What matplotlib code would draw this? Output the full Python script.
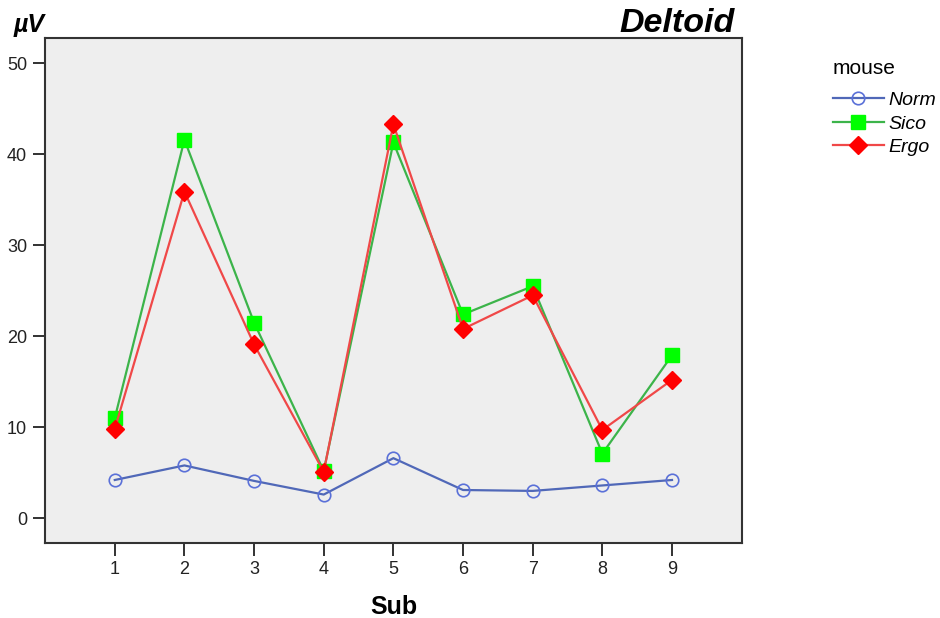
import matplotlib.pyplot as plt
import numpy as np

plt.rcParams['font.family'] = ['Liberation Sans', 'DejaVu Sans']

# mean amplitude per subject, three mouse types
subjects = [1, 2, 3, 4, 5, 6, 7, 8, 9]
norm = [4.2, 5.8, 4.1, 2.6, 6.6, 3.1, 3.0, 3.6, 4.2]
sico = [11.0, 41.6, 21.5, 5.2, 41.3, 22.4, 25.5, 7.1, 17.9]
ergo = [9.8, 35.9, 19.1, 5.1, 43.3, 20.8, 24.5, 9.7, 15.2]
yticks = [0, 10, 20, 30, 40, 50]

fig = plt.figure(figsize=(9.4, 6.18), dpi=100)
ax = fig.add_axes([0.048, 0.121, 0.741, 0.817])
ax.set_facecolor('#eeeeee')

ax.plot(subjects, norm, color='#5068b8', lw=1.6, marker='o', ms=9,
        mfc='none', mec='#5a70d8', mew=1.2, label='Norm')
ax.plot(subjects, sico, color='#3cb44a', lw=1.6, marker='s', ms=10.5,
        mfc='#00ff00', mec='#00ff00', label='Sico')
ax.plot(subjects, ergo, color='#f04848', lw=1.6, marker='D', ms=9,
        mfc='#ff0000', mec='#ff0000', label='Ergo')

ax.set_xlim(0, 10)
ax.set_ylim(-2.75, 52.75)
ax.set_xticks(subjects)
ax.set_yticks(yticks)
ax.tick_params(direction='out', length=9, width=1.3, labelsize=13, colors='#222222', pad=4)
for s in ax.spines.values():
    s.set_linewidth(1.5)
    s.set_color('#333333')

ax.set_xlabel('Sub', fontsize=18, fontweight='bold', labelpad=12)
fig.text(0.014, 0.96, 'µV', fontsize=18, fontweight='bold', style='italic', va='center')
fig.text(0.782, 0.962, 'Deltoid', fontsize=24.5, fontweight='bold', style='italic',
         ha='right', va='center')

leg = ax.legend(loc='upper left', bbox_to_anchor=(1.12, 0.975), frameon=False,
                title='mouse', fontsize=14, title_fontsize=15, handlelength=2.6,
                handletextpad=0.25, borderaxespad=0, labelspacing=0.3)
leg._legend_box.align = 'left'
leg._legend_box.sep = 10
for t in leg.get_texts():
    t.set_style('italic')

fig.savefig('out.png', dpi=100)
